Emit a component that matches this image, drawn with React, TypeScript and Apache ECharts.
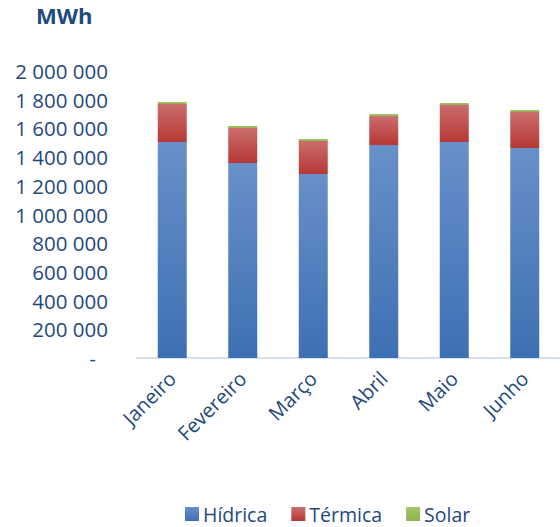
import React, { useEffect, useRef } from "react";
import * as echarts from "echarts";

const categories = ["Janeiro", "Fevereiro", "Março", "Abril", "Maio", "Junho"];
const hidrica = [1505000, 1359000, 1282000, 1484000, 1505000, 1463000];
const termica = [265000, 244000, 230000, 202000, 258000, 251000];
const solar = [14000, 14000, 14000, 14000, 14000, 14000];
const yTicks = [0, 200000, 400000, 600000, 800000, 1000000, 1200000, 1400000, 1600000, 1800000, 2000000];

const TXT = "#1f497d";
const FONT = "Open Sans";

function grad(top: string, bottom: string) {
  return new echarts.graphic.LinearGradient(0, 0, 0, 1, [
    { offset: 0, color: top },
    { offset: 1, color: bottom },
  ]);
}

function fmt(v: number) {
  if (v === 0) return "{d|-}";
  return String(v).replace(/\B(?=(\d{3})+(?!\d))/g, " ");
}

export default function App() {
  const ref = useRef<HTMLDivElement>(null);
  useEffect(() => {
    if (!ref.current) return;
    const chart = echarts.init(ref.current, null, { renderer: "svg" });
    const barW = 29;
    chart.setOption({
      animation: false,
      backgroundColor: "#ffffff",
      textStyle: { fontFamily: FONT },
      graphic: [
        {
          type: "text",
          left: 36,
          top: 4,
          style: { text: "MWh", fill: TXT, font: `bold 22px '${FONT}'` },
        },
      ],
      legend: {
        left: 180,
        top: 498,
        itemWidth: 14,
        itemHeight: 14,
        itemGap: 24,
        icon: "rect",
        textStyle: { color: TXT, fontSize: 19.5, fontFamily: FONT, lineHeight: 22, padding: [0, 0, 0, -1] },
        data: ["Hídrica", "Térmica", "Solar"],
      },
      grid: { left: 137, right: 0, top: 71, bottom: 527 - 358 },
      xAxis: {
        type: "category",
        data: categories,
        axisLine: { lineStyle: { color: "#d6e0ee", width: 2 } },
        axisTick: { show: false },
        axisLabel: { rotate: 45, color: TXT, fontSize: 20, fontFamily: FONT, margin: 17, interval: 0 },
      },
      yAxis: {
        type: "value",
        min: yTicks[0],
        max: yTicks[yTicks.length - 1],
        interval: yTicks[1] - yTicks[0],
        splitLine: { show: false },
        axisLine: { show: false },
        axisTick: { show: false },
        axisLabel: {
          color: TXT,
          fontSize: 20.5,
          fontFamily: FONT,
          margin: 29,
          formatter: fmt,
          rich: { d: { color: TXT, fontSize: 20, fontFamily: FONT, padding: [0, 12, 0, 0] } },
        },
      },
      series: [
        {
          name: "Hídrica",
          type: "bar",
          stack: "t",
          barWidth: barW,
          data: hidrica,
          itemStyle: { color: grad("#6890c9", "#3d70b3") },
        },
        {
          name: "Térmica",
          type: "bar",
          stack: "t",
          barWidth: barW,
          data: termica,
          itemStyle: { color: grad("#cb6d6b", "#b53835") },
        },
        {
          name: "Solar",
          type: "bar",
          stack: "t",
          barWidth: barW,
          data: solar,
          itemStyle: { color: grad("#a6c46a", "#8fb34d") },
        },
      ],
    });
    return () => chart.dispose();
  }, []);
  return <div ref={ref} style={{ position: "fixed", left: 0, top: 0, width: 560, height: 527 }} />;
}
